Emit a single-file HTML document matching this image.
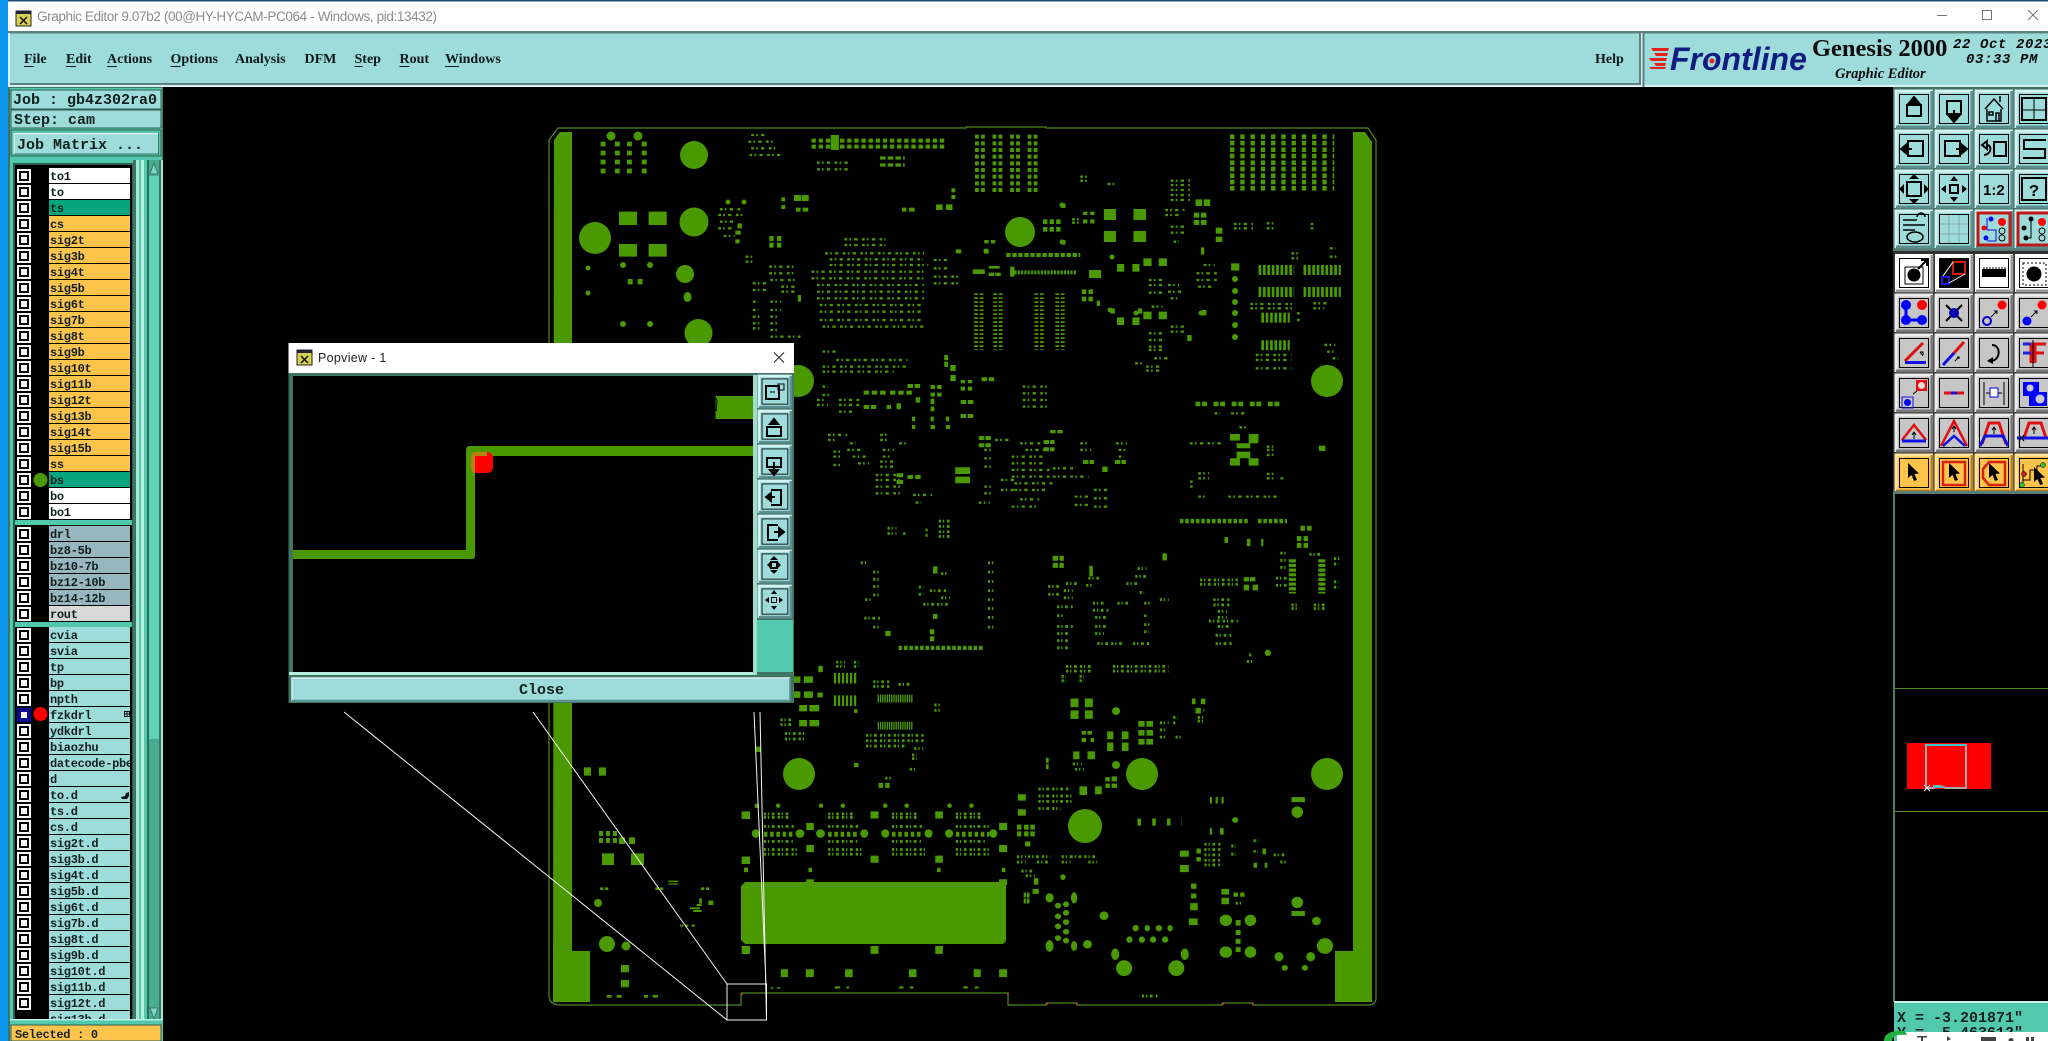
<!DOCTYPE html>
<html><head><meta charset="utf-8"><title>Graphic Editor</title>
<style>
html,body{margin:0;padding:0;background:#000;width:2048px;height:1041px;overflow:hidden}
svg{display:block}
.m{font:bold 14px "Liberation Serif",serif;fill:#0a1a1a}
.r{font:bold 12px "Liberation Mono",monospace;fill:#10201c;letter-spacing:-.3px}
.t{font:bold 15px "Liberation Mono",monospace;fill:#10201c}
.s{fill:none;stroke:#4a9900}
</style></head><body>
<svg xmlns="http://www.w3.org/2000/svg" width="2048" height="1041" viewBox="0 0 2048 1041">
<defs>
<g id="bt"><rect width="38" height="38" fill="#9edcdc"/><path d="M1 38V1H38" stroke="#d4f2f2" stroke-width="3" fill="none"/><path d="M1 37H37V1" stroke="#5c8f8f" stroke-width="3" fill="none"/><rect x="4.500" y="4.500" width="29" height="29" fill="none" stroke="#000"/></g>
<g id="bg"><rect width="38" height="38" fill="#c6c6c6"/><path d="M1 38V1H38" stroke="#eee" stroke-width="3" fill="none"/><path d="M1 37H37V1" stroke="#777" stroke-width="3" fill="none"/><rect x="4.500" y="4.500" width="29" height="29" fill="none" stroke="#000"/></g>
<g id="bw"><rect width="38" height="38" fill="#fff"/><path d="M1 37H37V1" stroke="#999" stroke-width="3" fill="none"/><rect x="4.500" y="4.500" width="29" height="29" fill="none" stroke="#000"/></g>
<g id="bo"><rect width="38" height="38" fill="#ffc44c"/><path d="M1 38V1H38" stroke="#ffe39f" stroke-width="3" fill="none"/><path d="M1 37H37V1" stroke="#b48428" stroke-width="3" fill="none"/><rect x="4.500" y="4.500" width="29" height="29" fill="none" stroke="#000"/></g>
<g id="cb"><rect x="17" width="14" height="14" fill="#fff"/><rect x="19" y="2" width="10" height="10" fill="#000"/><rect x="21" y="4" width="6" height="6" fill="#fff"/></g>
<path id="cur" d="M0 0L0 15L3.500 12L6 18L9 17L6.500 11L11 10.500Z" fill="#000"/>
</defs>

<!-- base -->
<rect width="2048" height="1041" fill="#000"/>
<rect x="0" y="0" width="8" height="1041" fill="#0a94ea"/>

<!-- ===== BOARD ===== -->
<path d="M558 128H966V127H1046V128H1368L1376 140V998Q1376 1005 1368 1005H1253V1003H1222V1005H1077V1003H1046V1005H1008V993H741V1005H560Q549 1005 549 995V140Z" fill="none" stroke="#4c8a20" stroke-width="1.200"/>
<path d="M741 993h2v2h-2zM1007 993h2v2h-2zM1046 1003h2v2h-2zM1076 1003h2v2h-2zM1222 1003h2v2h-2zM1252 1003h2v2h-2z" fill="#b04010"/>
<g fill="#4a9900">
<path d="M554 140L560 132H572V951H590V1002H553Z"/>
<path d="M1353 132H1365L1372 142V1002H1335V951H1353Z"/>
<path d="M745 882H1003L1006 885V941L1003 944H745L741 940V886Z"/>
<circle cx="694" cy="155" r="14"/><circle cx="694" cy="222" r="14.500"/><circle cx="595" cy="238" r="16"/><circle cx="685" cy="274" r="9"/><ellipse cx="687.500" cy="297" rx="4" ry="5"/><circle cx="698.500" cy="333" r="14"/><circle cx="1020" cy="232" r="15"/><circle cx="1327" cy="381" r="16"/><circle cx="798" cy="381" r="16"/><circle cx="799" cy="774" r="16"/><circle cx="1142" cy="774" r="16"/><circle cx="1327" cy="774" r="16"/><circle cx="1085" cy="826" r="17"/><circle cx="607" cy="944" r="8"/><circle cx="626" cy="946" r="4.500"/><circle cx="598" cy="903" r="4"/>
<circle cx="611" cy="136" r="4.500"/><circle cx="638" cy="136" r="4.500"/><circle cx="588" cy="268" r="2.500"/><circle cx="588" cy="293" r="2.500"/><circle cx="623" cy="265" r="3"/><circle cx="650" cy="265" r="3"/><circle cx="623" cy="324" r="3"/><circle cx="650" cy="324" r="3"/><circle cx="728" cy="202" r="2.500"/><circle cx="744" cy="202" r="2.500"/>
<circle cx="1062" cy="205" r="2.500"/><circle cx="1062" cy="242" r="2.500"/><circle cx="986" cy="251" r="2.500"/><circle cx="1112" cy="257" r="2.500"/><circle cx="1110" cy="310" r="2.500"/><circle cx="1136" cy="313" r="2.500"/><circle cx="1201" cy="313" r="2.500"/>
<circle cx="1235" cy="279" r="3"/><circle cx="1235" cy="291" r="3"/><circle cx="1235" cy="302" r="3"/><circle cx="1235" cy="313" r="3"/><circle cx="1235" cy="325" r="3"/><circle cx="1235" cy="337" r="3"/>
</g>

<!-- z7 coordinates -->
<g transform="translate(540,110) scale(.5485,.3333)">
<path fill="#4a9900" d="M530 75h15v45h-15zM144 305h33v40h-33zM198 305h33v40h-33zM144 402h33v38h-33zM198 402h33v38h-33zM160 507h9v16h-9zM178 507h9v16h-9zM463 255h13v18h-13zM477 255h13v18h-13zM440 262h7v12h-7zM440 285h7v12h-7zM467 293h8v12h-8zM479 293h10v12h-10zM660 293h8v12h-8zM673 293h10v12h-10zM722 283h12v17h-12zM740 283h12v17h-12zM750 235h7v12h-7zM750 255h7v12h-7zM418 378h8v15h-8zM432 378h8v15h-8zM418 398h8v15h-8zM432 398h8v15h-8zM1028 297h22v33h-22zM1082 297h23v33h-23zM1028 363h22v33h-22zM1082 363h23v33h-23zM1052 462h13v23h-13zM1080 462h13v23h-13zM1100 445h15v23h-15zM1128 445h15v23h-15zM1052 622h13v23h-13zM1080 622h13v23h-13zM1100 605h15v23h-15zM1128 605h15v23h-15zM1195 268h12v20h-12zM1210 268h12v20h-12zM1192 308h10v15h-10zM1205 308h10v15h-10zM1192 330h10v15h-10zM1205 330h10v15h-10zM1232 353h12v18h-12zM1232 380h12v16h-12zM1260 460h15v22h-15zM1001 480h22v24h-22zM988 538h8v14h-8zM1000 538h8v14h-8zM988 560h8v14h-8zM1000 560h8v14h-8zM1015 572h6v16h-6zM360 340h8v15h-8zM356 362h10v12h-10zM356 388h8v12h-8zM758 418h10v12h-10zM810 390h8v10h-8zM822 390h8v10h-8zM789 478h22v14h-22zM818 468h10v8h-10zM828 468h10v8h-10zM818 488h10v10h-10zM830 488h10v10h-10zM857 470h8v30h-8zM990 305h8v10h-8zM1003 305h8v10h-8zM990 328h8v12h-8zM1003 328h8v12h-8zM737 735h7v16h-7zM737 755h7v16h-7zM748 765h10v18h-10zM748 795h10v18h-10zM767 810h8v10h-8zM780 810h8v10h-8zM767 830h8v12h-8zM780 830h8v12h-8zM805 802h10v12h-10zM818 802h10v12h-10zM670 822h10v12h-10zM683 822h10v12h-10zM712 825h8v12h-8zM724 825h8v12h-8zM712 848h8v12h-8zM724 848h8v12h-8zM767 870h10v12h-10zM780 870h10v12h-10zM767 912h10v12h-10zM780 912h10v12h-10zM678 920h6v14h-6zM678 945h6v12h-6zM712 920h6v14h-6zM712 945h8v12h-8zM740 920h6v14h-6zM740 945h8v12h-8zM590 842h10v12h-10zM605 842h10v12h-10zM620 842h10v12h-10zM638 842h10v12h-10zM653 842h10v12h-10zM668 842h10v12h-10zM590 885h10v12h-10zM603 885h10v12h-10zM632 885h8v12h-8zM650 880h8v18h-8zM685 862h8v16h-8zM712 866h7v16h-7zM712 890h7v14h-7zM1420 1007h12v16h-12zM1258 972h18v20h-18zM1292 972h18v28h-18zM1270 1000h25v15h-25zM1270 1025h25v20h-25zM1258 1045h18v22h-18zM1292 1045h18v22h-18zM1180 675h8v18h-8zM930 960h10v10h-10zM943 960h10v10h-10zM800 978h10v12h-10zM812 978h10v12h-10zM800 1000h10v12h-10zM812 1000h10v12h-10zM918 990h10v12h-10zM930 990h8v12h-8zM918 1012h10v12h-10zM930 1012h8v12h-8zM757 1072h15v20h-15zM772 1072h12v20h-12zM757 1100h15v20h-15zM772 1100h12v20h-12zM650 1090h12v12h-12zM650 1110h12v12h-12zM670 1095h10v12h-10zM684 1095h10v12h-10zM990 1050h10v12h-10zM1002 1050h8v12h-8zM1048 1050h10v12h-10zM1060 1050h8v12h-8zM1025 1070h10v16h-10zM1207 600h8v16h-8zM1040 595h8v16h-8zM1090 595h8v16h-8zM950 280h8v14h-8zM950 390h8v14h-8zM810 417h8v14h-8zM470 555h6v20h-6zM1205 412h6v22h-6z"/>
<g class="s" stroke-width="7" stroke-dasharray="5 4 3 6 6 8">
<path d="M385 75h30M380 95h45M385 115h45M382 135h60M505 158h60M505 178h60M328 298h40M325 315h45M328 335h30M325 355h25M335 378h20M375 440h15M375 455h15M418 470h45M418 490h45M420 510h45M440 530h25M440 545h25M388 520h30M388 540h30M388 575h10M388 600h10M388 620h15M388 640h15M388 655h15M420 575h20M420 600h20M420 620h15M420 640h15M420 660h15M420 680h55"/>
<path d="M555 388h75M555 405h75M520 430h180M528 448h170M528 465h180M495 485h210M495 505h210M505 525h195M505 545h195M505 565h195M510 585h190M510 605h190M510 630h190M515 650h185M718 450h25M718 475h25M718 500h45M718 520h45"/>
<path d="M985 200h15M985 212h15M1035 222h15M1150 212h35M1150 225h35M1150 240h35M1150 255h35M1150 270h35M1140 300h35M1140 315h25M1150 350h30M1150 368h30M1155 395h10M1265 342h35M1265 355h35M1325 340h15M1325 355h15M1405 342h5M1405 355h5M970 328h15M970 338h15M1110 510h30M1110 525h30M1145 525h20M1110 548h30M1145 545h25M1150 565h15M1115 590h20M1197 490h40M1197 510h40M1200 530h30M1210 465h20M1110 670h30M1110 690h30M1150 650h25M1150 665h25M1110 710h30M1110 720h30M1120 745h25M1085 760h15M1105 770h25M1105 782h25M1295 582h80M1295 595h80M1410 580h25M1410 595h20M1380 610h5M1380 630h5M1305 735h65M1305 750h65M1305 775h65M1430 705h20M1435 725h15M1445 745h10M1370 430h15M1370 445h15M1440 415h10M1440 440h15"/>
<path d="M515 725h30M540 750h130M515 770h155M515 785h130M515 830h10M515 855h15M505 870h15M505 885h20M545 870h40M545 885h40M545 905h30M880 830h50M880 850h50M880 870h50M880 890h50M1230 910h10M1260 910h30M1275 952h15M1185 1000h60M1325 1010h15M1325 1020h15M1325 1035h15M1200 1090h20M1200 1105h20M1325 1092h18M1325 1105h18M1350 1105h8M1185 1115h5M1185 1130h5M1200 1160h15M1255 1160h90"/>
<path d="M525 975h35M525 990h15M620 975h15M620 990h15M655 1000h15M565 1000h10M560 1020h30M535 1025h15M535 1040h15M535 1065h15M570 1040h30M580 1060h20M625 1020h20M625 1040h15M620 1055h25M620 1070h30M612 1095h50M612 1110h50M612 1130h50M612 1150h50M680 1155h35M685 1178h10"/>
<path d="M830 990h30M875 1000h40M810 1020h15M885 1020h40M810 1045h12M860 1040h60M985 1000h15M1050 1000h20M985 1020h20M1055 1020h15M1055 1040h10M860 1060h60M810 1070h12M860 1080h70M935 1075h40M860 1100h70M935 1100h65M840 1110h30M810 1130h15M865 1120h70M840 1140h30M865 1140h60M810 1150h15M875 1168h35M975 1160h30M975 1185h30M1010 1140h30M1010 1165h30M1010 1190h30M800 1178h20M860 1190h50"/>
</g>
<path class="s" stroke-width="12" stroke-dasharray="8 5" d="M495 92h245M495 110h245"/>
<path class="s" stroke-width="10" stroke-dasharray="10 4" d="M620 144h45M620 165h45"/>
<path class="s" stroke-width="9" stroke-dasharray="14 13" d="M115 95V190M141 95V190M163 95V190M190 95V190"/>
<path class="s" stroke-width="12" stroke-dasharray="7 4 7 14" d="M793 80h115M793 100h115M793 120h115M793 140h115M793 160h115M793 180h115M793 200h115M793 220h115M793 240h115"/>
<path class="s" stroke-width="14" stroke-dasharray="8 10.700" d="M1258 80h190M1258 99h190M1258 119h190M1258 138h190M1258 158h190M1258 177h190M1258 197h190M1258 216h190M1258 235h190"/>
<path class="s" stroke-width="7" stroke-dasharray="5 7" d="M795 550V720M805 550V720M830 550V720M840 550V720M905 550V720M915 550V720M943 550V720M953 550V720"/>
<path class="s" stroke-width="12" stroke-dasharray="8 3" d="M850 435h135"/>
<path class="s" stroke-width="12" stroke-dasharray="4 2" d="M865 487h112"/>
<path class="s" stroke-width="14" stroke-dasharray="8 4" d="M917 335h35M917 358h35"/>
<path class="s" stroke-width="30" stroke-dasharray="5 3" d="M1310 480h65M1392 480h68M1310 546h65M1392 546h68M1315 623h52M1315 706h52"/>
<path class="s" stroke-width="14" stroke-dasharray="9 3 9 12" d="M1195 882h165"/>
</g>

<!-- z8 coordinates -->
<g transform="translate(700,480) scale(.4464,.3571)">
<path fill="#4a9900" d="M1345 128h10v14h-10zM1360 128h10v14h-10zM1337 157h10v14h-10zM1352 157h10v14h-10zM1337 176h10v14h-10zM1352 176h10v14h-10zM1175 160h8v16h-8zM1225 165h8v20h-8zM1257 165h5v20h-5zM790 212h12v14h-12zM805 212h10v14h-10zM790 232h12v14h-12zM805 232h10v14h-10zM1036 205h10v20h-10zM1218 272h12v12h-12zM1232 272h12v12h-12zM1218 293h12v16h-12zM1238 293h12v16h-12zM415 423h12v14h-12zM515 418h10v14h-10zM515 438h10v14h-10zM522 242h10v20h-10zM522 375h10v14h-10zM872 240h8v30h-8zM210 550h15v18h-15zM233 550h20v18h-20zM210 592h15v18h-15zM233 592h20v18h-20zM222 630h18v18h-18zM245 630h22v18h-22zM222 672h18v18h-18zM245 672h22v18h-22zM265 520h10v18h-10zM263 595h12v14h-12zM345 642h8v10h-8zM345 792h10v12h-10zM400 848h10v14h-10zM415 848h10v14h-10zM830 612h18v24h-18zM862 612h18v24h-18zM830 645h18v24h-18zM862 645h18v24h-18zM982 675h14v16h-14zM1000 675h15v16h-15zM982 700h14v16h-14zM1000 700h15v16h-15zM982 725h14v16h-14zM1000 725h15v16h-15zM912 704h14v22h-14zM945 704h15v22h-15zM912 735h14v24h-14zM945 735h15v24h-15zM855 703h10v10h-10zM868 703h10v10h-10zM855 722h10v12h-10zM875 722h8v12h-8zM836 760h14v22h-14zM868 760h17v22h-17zM908 832h10v12h-10zM922 830h12v14h-12zM908 850h10v12h-10zM922 850h12v12h-12zM850 858h17v24h-17zM885 858h15v22h-15zM712 880h18v18h-18zM712 922h18v18h-18zM775 778h6v14h-6zM775 796h6v14h-6zM1102 612h8v16h-8zM1122 612h10v16h-10zM1110 638h12v16h-12zM95 928h17v20h-17zM95 1055h17v20h-17zM238 960h17v20h-17zM238 1022h17v20h-17zM382 928h18v20h-18zM382 1052h18v20h-18zM527 928h17v20h-17zM527 1052h17v20h-17zM670 960h18v20h-18zM670 1022h18v20h-18zM99 1086h8v12h-8zM243 1086h8v12h-8zM531 1086h8v12h-8zM676 1086h8v12h-8zM238 1118h17v10h-17zM670 1118h18v16h-18zM95 1305h17v22h-17zM382 1305h18v22h-18zM527 1305h17v22h-17zM181 1370h16v22h-16zM237 1370h18v22h-18zM325 1370h17v22h-17zM468 1370h17v22h-17zM613 1370h16v22h-16zM670 1370h18v22h-18zM158 1420h6v4h-6zM172 1420h8v4h-8zM302 1418h12v6h-12zM328 1418h6v6h-6zM446 1418h10v6h-10zM470 1418h8v6h-8zM590 1418h10v6h-10zM616 1418h8v6h-8zM710 965h10v14h-10zM726 965h10v14h-10zM740 965h10v14h-10zM710 984h10v14h-10zM726 984h10v14h-10zM740 984h10v14h-10zM728 1012h12v14h-12zM748 1115h10v18h-10zM745 1145h14v14h-14zM725 1155h5v14h-5zM732 1155h6v14h-6zM725 1172h5v14h-5zM732 1172h6v14h-6zM1075 1038h20v17h-20zM1075 1078h20v20h-20zM1100 1130h12v15h-12zM1100 1158h12v14h-12zM1098 1185h17v20h-17zM1095 1228h20v18h-20zM1112 1032h10v14h-10zM1112 1056h10v12h-10zM1168 1145h17v16h-17zM1168 1170h17v18h-17zM1195 1155h10v12h-10zM1210 1155h10v12h-10zM1200 1232h11v16h-11zM1200 1260h11v14h-11zM1200 1285h11v14h-11zM1200 1308h11v14h-11zM1325 888h30v14h-30zM1325 1207h30v14h-30zM1260 1032h8v16h-8zM1240 1072h8v14h-8zM1265 1072h6v14h-6zM1142 888h5v18h-5zM1155 888h5v18h-5zM1168 888h5v18h-5zM1142 975h5v18h-5zM1165 975h8v18h-8z"/>
<g fill="#4a9900">
<ellipse cx="932" cy="647" rx="9" ry="11"/><ellipse cx="932" cy="798" rx="9" ry="11"/><ellipse cx="1199" cy="952" rx="7" ry="8"/><ellipse cx="1272" cy="484" rx="7" ry="9"/>
<ellipse cx="125" cy="990" rx="9" ry="12"/><ellipse cx="224" cy="990" rx="10" ry="12"/><ellipse cx="270" cy="990" rx="10" ry="12"/><ellipse cx="368" cy="990" rx="9" ry="12"/><ellipse cx="415" cy="990" rx="9" ry="12"/><ellipse cx="512" cy="990" rx="9" ry="12"/><ellipse cx="558" cy="990" rx="9" ry="12"/><ellipse cx="657" cy="990" rx="9" ry="12"/>
<ellipse cx="127" cy="912" rx="5" ry="6"/><ellipse cx="175" cy="912" rx="5" ry="6"/><ellipse cx="271" cy="912" rx="5" ry="6"/><ellipse cx="320" cy="912" rx="5" ry="6"/><ellipse cx="415" cy="912" rx="5" ry="6"/><ellipse cx="463" cy="912" rx="5" ry="6"/><ellipse cx="559" cy="912" rx="5" ry="6"/><ellipse cx="608" cy="912" rx="5" ry="6"/>
<ellipse cx="783" cy="1170" rx="9" ry="13"/><ellipse cx="838" cy="1170" rx="7" ry="16"/><ellipse cx="783" cy="1305" rx="9" ry="16"/><ellipse cx="838" cy="1305" rx="7" ry="14"/><ellipse cx="868" cy="1300" rx="10" ry="12"/><ellipse cx="905" cy="1220" rx="10" ry="12"/>
<ellipse cx="802" cy="1192" rx="7" ry="8"/><ellipse cx="820" cy="1188" rx="7" ry="8"/><ellipse cx="802" cy="1222" rx="7" ry="8"/><ellipse cx="820" cy="1212" rx="7" ry="8"/><ellipse cx="802" cy="1250" rx="7" ry="8"/><ellipse cx="820" cy="1238" rx="7" ry="8"/><ellipse cx="802" cy="1283" rx="7" ry="8"/><ellipse cx="820" cy="1265" rx="7" ry="8"/><ellipse cx="820" cy="1290" rx="7" ry="8"/>
<ellipse cx="976" cy="1255" rx="7" ry="9"/><ellipse cx="1002" cy="1255" rx="6" ry="9"/><ellipse cx="1028" cy="1255" rx="7" ry="9"/><ellipse cx="1053" cy="1255" rx="6" ry="9"/><ellipse cx="962" cy="1287" rx="7" ry="9"/><ellipse cx="990" cy="1287" rx="7" ry="9"/><ellipse cx="1015" cy="1287" rx="7" ry="9"/><ellipse cx="1042" cy="1287" rx="7" ry="9"/>
<ellipse cx="930" cy="1328" rx="9" ry="16"/><ellipse cx="1086" cy="1328" rx="9" ry="16"/><ellipse cx="950" cy="1367" rx="18" ry="22"/><ellipse cx="1067" cy="1367" rx="18" ry="22"/>
<ellipse cx="1338" cy="930" rx="13" ry="16"/><ellipse cx="1338" cy="1183" rx="13" ry="16"/><ellipse cx="1178" cy="1233" rx="14" ry="16"/><ellipse cx="1233" cy="1233" rx="13" ry="16"/><ellipse cx="1178" cy="1322" rx="14" ry="16"/><ellipse cx="1233" cy="1322" rx="13" ry="16"/>
<ellipse cx="1297" cy="1335" rx="10" ry="13"/><ellipse cx="1368" cy="1335" rx="10" ry="13"/><ellipse cx="1381" cy="1235" rx="10" ry="12"/><ellipse cx="1400" cy="1305" rx="18" ry="22"/><ellipse cx="1310" cy="1366" rx="7" ry="8"/><ellipse cx="1355" cy="1366" rx="7" ry="8"/>
<ellipse cx="813" cy="1112" rx="6" ry="8"/>
</g>
<g class="s" stroke-width="8" stroke-dasharray="5 4 3 6 6 7">
<path d="M420 150h20M420 135h20M535 115h25M535 130h25M535 145h25M535 158h25M505 140h5M505 155h5M455 150h5M360 232h12M388 258h18M388 278h18M388 298h18M388 322h18M370 335h15M368 387h35M388 412h18M645 232h18M645 258h18M645 284h18M645 310h18M645 335h18M645 360h18M645 385h18M645 412h18M540 262h15M490 300h10M515 310h40M490 320h10M540 330h20M500 348h60"/>
<path d="M780 298h25M780 320h25M820 290h30M815 310h20M815 330h20M800 355h35M800 380h15M800 410h35M800 430h30M800 450h30M800 470h30M870 275h30M865 295h15M880 345h30M880 365h35M885 385h25M885 410h25M885 430h20M890 458h55M970 458h40M935 345h30M955 290h30M985 315h10M995 345h15M995 380h5M995 405h15M995 425h10M1030 335h20M980 248h20M975 270h30"/>
<path d="M1120 280h85M1120 292h85M1150 335h40M1150 350h40M1160 368h20M1160 385h20M1140 395h65M1160 410h25M1155 435h35M1155 458h40M1230 490h8M1225 508h12M1300 205h15M1300 225h15M1300 245h15M1290 275h25M1290 295h25M1365 208h25M1420 220h15M1420 235h10M1420 285h10M1420 300h10M1325 350h18M1325 360h18M1375 350h28M1375 360h28"/>
<path d="M820 522h60M820 535h60M925 522h125M925 535h125M810 550h10M850 550h10M810 562h10M850 562h10M305 510h20M305 522h20M345 510h10M345 522h10M388 565h40M388 578h40M445 572h30M180 672h30M180 685h30M190 710h45M190 725h45M372 715h130M372 730h130M372 745h90M480 752h20M475 770h10M475 780h10M470 810h18M415 835h15M525 630h15M525 645h15M758 865h70M758 885h75M758 900h75M758 920h50M835 795h20M840 810h20M1030 680h20M1030 700h15M1030 720h15M1060 665h10M1060 680h5M1065 720h15M1110 645h20M1115 665h15M1115 675h15"/>
<path d="M143 935h55M143 945h55M287 935h55M287 945h55M430 935h55M430 945h55M573 935h60M573 945h60M143 970h70M287 970h70M430 970h70M573 970h75M143 1012h65M287 1012h65M430 1012h65M573 1012h65M143 1035h80M287 1035h80M430 1035h80M573 1035h80M143 1048h80M287 1048h80M430 1048h80M573 1048h80"/>
<path d="M710 1055h20M710 1070h20M735 1055h50M755 1070h30M810 1055h20M830 1055h60M810 1070h20M870 1070h20M720 1095h30M730 1108h20M1130 1020h40M1130 1035h40M1130 1050h35M1130 1065h35M1130 1078h35M1190 1025h10M1190 1048h10M1240 1010h10M1240 1040h10M1285 1050h30M1300 1070h15M1200 1185h15M990 1445h35"/>
</g>
<path class="s" stroke-width="14" stroke-dasharray="8 6" d="M143 992h70M287 992h70M430 992h70M573 992h75"/>
<path class="s" stroke-width="12" stroke-dasharray="8 4" d="M1075 115h155M1250 115h65M445 470h190"/>
<path class="s" stroke-width="20" stroke-dasharray="8 25" d="M980 958h100"/>
<path class="s" stroke-width="30" stroke-dasharray="5 4" d="M300 555h50M300 618h50"/>
<path class="s" stroke-width="22" stroke-dasharray="3 2" d="M398 612h80M398 688h80"/>
<path class="s" stroke-width="16" stroke-dasharray="9 4" d="M1327 222v96M1393 222v96"/>
</g>

<!-- z10 coordinates -->
<g transform="translate(320,700) scale(.3333)" fill="#4a9900">
<path d="M792 202h21v25h-21zM837 202h21v25h-21zM837 393h12v15h-12zM858 393h12v15h-12zM879 393h12v15h-12zM837 414h12v15h-12zM858 414h12v15h-12zM879 414h12v15h-12zM897 412h18v20h-18zM927 412h18v20h-18zM846 460h36v35h-36zM933 460h39v35h-39zM840 562h10v8h-10zM855 562h10v8h-10zM1006 562h10v8h-10zM1020 562h10v8h-10zM1143 562h10v8h-10zM1158 562h10v8h-10zM1045 542h30v4h-30zM1045 550h30v4h-30zM1165 602h15v13h-15zM1080 674h10v6h-10zM1095 674h10v6h-10zM1115 674h10v6h-10zM903 795h24v22h-24zM903 840h24v22h-24zM860 885h15v8h-15zM890 885h15v8h-15zM972 885h12v8h-12zM998 885h16v8h-16zM1265 335h25v22h-25zM1265 470h25v22h-25zM1272 503h12v12h-12zM1265 738h25v24h-25zM1307 140h15v16h-15zM1305 312h12v12h-12zM1110 622h30v6h-30zM1120 630h25v6h-25zM1130 612h15v6h-15zM1138 595h8v16h-8z"/>
</g>

<!-- white projection lines -->
<g fill="none" stroke="#f4f4f4" stroke-width="1">
<path d="M344 712L727 1020M533 712L727 984"/>
<path d="M754 712L766 984M760 712L766.500 1020"/>
<rect x="727" y="984" width="39.500" height="36"/>
</g>

<!-- ===== TITLE ===== -->
<rect x="8" y="0" width="2040" height="31" fill="#fff"/>
<rect x="0" y="0" width="2048" height="1.500" fill="#1d4b75"/>
<rect x="0" y="0" width="8" height="1.500" fill="#0a94ea"/>
<g transform="translate(16,11)"><rect width="15" height="15" fill="#d8d050" stroke="#222"/><rect width="15" height="3" fill="#223"/><path d="M4 6l7 7M11 6l-7 7" stroke="#111" stroke-width="1.500"/></g>
<text x="37" y="21" font-family="'Liberation Sans',sans-serif" font-size="13.500" fill="#8c8c8c" textLength="400" lengthAdjust="spacing">Graphic Editor 9.07b2 (00@HY-HYCAM-PC064 - Windows, pid:13432)</text>
<path d="M1937 15.500h10" stroke="#777"/><rect x="1982.500" y="10.500" width="9" height="9" fill="none" stroke="#777"/><path d="M2028 10l10 10M2038 10l-10 10" stroke="#777"/>

<!-- ===== MENU BAR ===== -->
<rect x="8" y="31" width="2040" height="56" fill="#9edcdc"/>
<rect x="8" y="31" width="2040" height="2.500" fill="#5e8282"/>
<rect x="8" y="83" width="1634" height="2" fill="#5e8282"/>
<rect x="8" y="85" width="2040" height="2" fill="#d8f2f2"/>
<rect x="8" y="33" width="2" height="52" fill="#d8f2f2"/>
<rect x="1639" y="33" width="2" height="52" fill="#5e8282"/><rect x="1641" y="33" width="1.500" height="54" fill="#d8f2f2"/><rect x="1642.500" y="33" width="2" height="54" fill="#5e8282"/>
<text class="m" x="24" y="63">File</text><text class="m" x="66" y="63">Edit</text><text class="m" x="107" y="63">Actions</text><text class="m" x="170.500" y="63">Options</text><text class="m" x="235" y="63">Analysis</text><text class="m" x="304.500" y="63">DFM</text><text class="m" x="354.500" y="63">Step</text><text class="m" x="399.500" y="63">Rout</text><text class="m" x="445" y="63">Windows</text>
<path d="M24 66.500h10M66 66.500h10M107 66.500h10M170.500 66.500h10M354.500 66.500h8M399.500 66.500h10M445 66.500h14" stroke="#0a1a1a"/>
<text class="m" x="1595" y="63">Help</text>
<!-- logo -->
<path d="M1651 48h18l-1 3h-15zM1654 53h14l-1 3h-11zM1649 58h18l-1 3h-15zM1654 63h12l-1 3h-9zM1649 67h17l-1 2h-14z" fill="#e8201c"/>
<text x="1670" y="70" font-family="'Liberation Sans',sans-serif" font-weight="bold" font-style="italic" font-size="32" fill="#101d80">Frontline</text>
<circle cx="1712" cy="61" r="2.500" fill="#e8201c"/>
<text x="1812" y="56" font-family="'Liberation Serif',serif" font-weight="bold" font-size="24.500" fill="#0a0a0a">Genesis 2000</text>
<text x="1835" y="78" font-family="'Liberation Serif',serif" font-weight="bold" font-style="italic" font-size="14.500" fill="#0a0a0a">Graphic Editor</text>
<g font-family="'Liberation Mono',monospace" font-weight="bold" font-style="italic" font-size="14" fill="#0a0a0a" letter-spacing=".6">
<text x="1953" y="48">22 Oct 2023</text><text x="1966" y="63">03:33 PM</text></g>

<!-- ===== LEFT PANEL ===== -->
<rect x="8" y="87" width="155" height="954" fill="#3c7565"/>
<rect x="10" y="88" width="152" height="72" fill="#52c8ac"/>
<rect x="11" y="90" width="150" height="19" fill="#9edcdc" stroke="#2e5e50"/>
<rect x="11" y="110" width="150" height="18" fill="#9edcdc" stroke="#2e5e50"/>
<rect x="11" y="130" width="150" height="26" fill="#52c8ac" stroke="#2e5e50"/>
<rect x="13.500" y="133" width="145" height="21" fill="#9edcdc" stroke="#3c7565"/>
<path d="M14 154V133.500H158" fill="none" stroke="#d8f2f2" stroke-width="1.500"/>
<text class="t" x="13" y="104">Job : gb4z302ra0</text>
<text class="t" x="14" y="124">Step: cam</text>
<text class="t" x="17" y="149">Job Matrix ...</text>
<!-- list body -->
<rect x="10" y="160" width="153" height="881" fill="#52c8ac"/>
<rect x="13" y="163" width="120" height="857" fill="#2e5e50"/>
<rect x="15" y="165" width="117" height="855" fill="#000"/>
<rect x="15" y="520" width="117" height="5" fill="#52c8ac"/><rect x="15" y="622" width="117" height="5" fill="#52c8ac"/>
<!-- scrollbar -->
<rect x="133" y="160" width="3" height="860" fill="#3c7565"/>
<rect x="136" y="160" width="3" height="860" fill="#a8e6d8"/>
<rect x="139" y="160" width="2" height="860" fill="#52c8ac"/>
<rect x="141" y="160" width="3" height="860" fill="#b8f0e4"/>
<rect x="144" y="160" width="3" height="860" fill="#52c8ac"/>
<rect x="147" y="160" width="2" height="860" fill="#2e6e5c"/>
<rect x="149" y="160" width="10" height="860" fill="#46ad93"/>
<rect x="149" y="176" width="10" height="563" fill="#5fd2b8"/>
<rect x="159" y="160" width="2" height="860" fill="#3c7565"/>
<rect x="161" y="160" width="2" height="881" fill="#a8e6d8"/>
<path d="M150 174L154 163L158 174Z" fill="#7fd8c8" stroke="#3c7565"/>
<path d="M150 1008L154 1019L158 1008Z" fill="#7fd8c8" stroke="#3c7565"/>

<!-- rows group 1 -->
<g fill="#fff"><rect x="49" y="168" width="81" height="15"/><rect x="49" y="184" width="81" height="15"/><rect x="49" y="488" width="81" height="15"/><rect x="49" y="504" width="81" height="15"/></g>
<g fill="#06a57f"><rect x="49" y="200" width="81" height="15"/><rect x="49" y="472" width="81" height="15"/></g>
<g fill="#ffc44c"><rect x="49" y="216" width="81" height="15"/><rect x="49" y="232" width="81" height="15"/><rect x="49" y="248" width="81" height="15"/><rect x="49" y="264" width="81" height="15"/><rect x="49" y="280" width="81" height="15"/><rect x="49" y="296" width="81" height="15"/><rect x="49" y="312" width="81" height="15"/><rect x="49" y="328" width="81" height="15"/><rect x="49" y="344" width="81" height="15"/><rect x="49" y="360" width="81" height="15"/><rect x="49" y="376" width="81" height="15"/><rect x="49" y="392" width="81" height="15"/><rect x="49" y="408" width="81" height="15"/><rect x="49" y="424" width="81" height="15"/><rect x="49" y="440" width="81" height="15"/><rect x="49" y="456" width="81" height="15"/></g>
<g fill="#98b6c0"><rect x="49" y="526" width="81" height="15"/><rect x="49" y="542" width="81" height="15"/><rect x="49" y="558" width="81" height="15"/><rect x="49" y="574" width="81" height="15"/><rect x="49" y="590" width="81" height="15"/></g>
<rect x="49" y="606" width="81" height="15" fill="#d8d8d8"/>
<g fill="#9edcdc"><rect x="49" y="627" width="81" height="15"/><rect x="49" y="643" width="81" height="15"/><rect x="49" y="659" width="81" height="15"/><rect x="49" y="675" width="81" height="15"/><rect x="49" y="691" width="81" height="15"/><rect x="49" y="707" width="81" height="15"/><rect x="49" y="723" width="81" height="15"/><rect x="49" y="739" width="81" height="15"/><rect x="49" y="755" width="81" height="15"/><rect x="49" y="771" width="81" height="15"/><rect x="49" y="787" width="81" height="15"/><rect x="49" y="803" width="81" height="15"/><rect x="49" y="819" width="81" height="15"/><rect x="49" y="835" width="81" height="15"/><rect x="49" y="851" width="81" height="15"/><rect x="49" y="867" width="81" height="15"/><rect x="49" y="883" width="81" height="15"/><rect x="49" y="899" width="81" height="15"/><rect x="49" y="915" width="81" height="15"/><rect x="49" y="931" width="81" height="15"/><rect x="49" y="947" width="81" height="15"/><rect x="49" y="963" width="81" height="15"/><rect x="49" y="979" width="81" height="15"/><rect x="49" y="995" width="81" height="15"/><rect x="49" y="1011" width="81" height="9"/></g>
<g>
<use href="#cb" y="169"/><use href="#cb" y="185"/><use href="#cb" y="201"/><use href="#cb" y="217"/><use href="#cb" y="233"/><use href="#cb" y="249"/><use href="#cb" y="265"/><use href="#cb" y="281"/><use href="#cb" y="297"/><use href="#cb" y="313"/><use href="#cb" y="329"/><use href="#cb" y="345"/><use href="#cb" y="361"/><use href="#cb" y="377"/><use href="#cb" y="393"/><use href="#cb" y="409"/><use href="#cb" y="425"/><use href="#cb" y="441"/><use href="#cb" y="457"/><use href="#cb" y="473"/><use href="#cb" y="489"/><use href="#cb" y="505"/>
<use href="#cb" y="527"/><use href="#cb" y="543"/><use href="#cb" y="559"/><use href="#cb" y="575"/><use href="#cb" y="591"/><use href="#cb" y="607"/>
<use href="#cb" y="628"/><use href="#cb" y="644"/><use href="#cb" y="660"/><use href="#cb" y="676"/><use href="#cb" y="692"/>
<rect x="17" y="708" width="14" height="14" fill="#0a0a90"/><rect x="21" y="712" width="6" height="6" fill="#fff"/>
<use href="#cb" y="724"/><use href="#cb" y="740"/><use href="#cb" y="756"/><use href="#cb" y="772"/><use href="#cb" y="788"/><use href="#cb" y="804"/><use href="#cb" y="820"/><use href="#cb" y="836"/><use href="#cb" y="852"/><use href="#cb" y="868"/><use href="#cb" y="884"/><use href="#cb" y="900"/><use href="#cb" y="916"/><use href="#cb" y="932"/><use href="#cb" y="948"/><use href="#cb" y="964"/><use href="#cb" y="980"/><use href="#cb" y="996"/>
</g>
<circle cx="40.500" cy="480" r="7" fill="#4a9900"/><circle cx="40.500" cy="714" r="7" fill="#ff0000"/>
<g class="labels">
<text class="r" x="50" y="180">to1</text><text class="r" x="50" y="196">to</text><text class="r" x="50" y="212">ts</text><text class="r" x="50" y="228">cs</text><text class="r" x="50" y="244">sig2t</text><text class="r" x="50" y="260">sig3b</text><text class="r" x="50" y="276">sig4t</text><text class="r" x="50" y="292">sig5b</text><text class="r" x="50" y="308">sig6t</text><text class="r" x="50" y="324">sig7b</text><text class="r" x="50" y="340">sig8t</text><text class="r" x="50" y="356">sig9b</text><text class="r" x="50" y="372">sig10t</text><text class="r" x="50" y="388">sig11b</text><text class="r" x="50" y="404">sig12t</text><text class="r" x="50" y="420">sig13b</text><text class="r" x="50" y="436">sig14t</text><text class="r" x="50" y="452">sig15b</text><text class="r" x="50" y="468">ss</text><text class="r" x="50" y="484">bs</text><text class="r" x="50" y="500">bo</text><text class="r" x="50" y="516">bo1</text>
<text class="r" x="50" y="538">drl</text><text class="r" x="50" y="554">bz8-5b</text><text class="r" x="50" y="570">bz10-7b</text><text class="r" x="50" y="586">bz12-10b</text><text class="r" x="50" y="602">bz14-12b</text><text class="r" x="50" y="618">rout</text>
<text class="r" x="50" y="639">cvia</text><text class="r" x="50" y="655">svia</text><text class="r" x="50" y="671">tp</text><text class="r" x="50" y="687">bp</text><text class="r" x="50" y="703">npth</text><text class="r" x="50" y="719">fzkdrl</text><text class="r" x="50" y="735">ydkdrl</text><text class="r" x="50" y="751">biaozhu</text>
<svg x="49" y="755" width="81" height="16"><text class="r" x="1" y="12">datecode-pbe</text></svg>
<text class="r" x="50" y="783">d</text><text class="r" x="50" y="799">to.d</text><text class="r" x="50" y="815">ts.d</text><text class="r" x="50" y="831">cs.d</text><text class="r" x="50" y="847">sig2t.d</text><text class="r" x="50" y="863">sig3b.d</text><text class="r" x="50" y="879">sig4t.d</text><text class="r" x="50" y="895">sig5b.d</text><text class="r" x="50" y="911">sig6t.d</text><text class="r" x="50" y="927">sig7b.d</text><text class="r" x="50" y="943">sig8t.d</text><text class="r" x="50" y="959">sig9b.d</text><text class="r" x="50" y="975">sig10t.d</text><text class="r" x="50" y="991">sig11b.d</text><text class="r" x="50" y="1007">sig12t.d</text>
<svg x="49" y="1011" width="81" height="9"><text class="r" x="1" y="12">sig13b.d</text></svg>
</g>
<rect x="124.500" y="711.500" width="5" height="5" fill="none" stroke="#111"/><path d="M127 711v6M124 714h6" stroke="#111"/>
<path d="M121 797l4-1 1-3 3-1 0 4-2 3h-5z" fill="#111"/>
<!-- selected -->
<rect x="10" y="1019" width="153" height="22" fill="#52c8ac"/>
<rect x="10" y="1019" width="153" height="1.500" fill="#b8f0e4"/>
<rect x="11" y="1025" width="150" height="16" fill="#ffc44c" stroke="#2e5e50"/>
<text class="r" x="15" y="1038">Selected : 0</text>

<!-- ===== RIGHT TOOLBAR ===== -->
<rect x="1893" y="87" width="155" height="163" fill="#3f6f62"/>
<rect x="1893" y="250" width="155" height="243" fill="#303030"/>
<rect x="1893" y="248" width="155" height="3" fill="#5b7a72"/>
<g>
<use href="#bt" x="1895" y="90"/><use href="#bt" x="1935" y="90"/><use href="#bt" x="1975" y="90"/><use href="#bt" x="2015" y="90"/>
<use href="#bt" x="1895" y="130"/><use href="#bt" x="1935" y="130"/><use href="#bt" x="1975" y="130"/><use href="#bt" x="2015" y="130"/>
<use href="#bt" x="1895" y="170"/><use href="#bt" x="1935" y="170"/><use href="#bt" x="1975" y="170"/><use href="#bt" x="2015" y="170"/>
<use href="#bt" x="1895" y="210"/><use href="#bt" x="1935" y="210"/><use href="#bt" x="1975" y="210"/><use href="#bt" x="2015" y="210"/>
<use href="#bw" x="1895" y="254"/><use href="#bw" x="1935" y="254"/><use href="#bw" x="1975" y="254"/><use href="#bw" x="2015" y="254"/>
<use href="#bg" x="1895" y="294"/><use href="#bg" x="1935" y="294"/><use href="#bg" x="1975" y="294"/><use href="#bg" x="2015" y="294"/>
<use href="#bg" x="1895" y="334"/><use href="#bg" x="1935" y="334"/><use href="#bg" x="1975" y="334"/><use href="#bg" x="2015" y="334"/>
<use href="#bg" x="1895" y="374"/><use href="#bg" x="1935" y="374"/><use href="#bg" x="1975" y="374"/><use href="#bg" x="2015" y="374"/>
<use href="#bg" x="1895" y="414"/><use href="#bg" x="1935" y="414"/><use href="#bg" x="1975" y="414"/><use href="#bg" x="2015" y="414"/>
<use href="#bo" x="1895" y="454"/><use href="#bo" x="1935" y="454"/><use href="#bo" x="1975" y="454"/><use href="#bo" x="2015" y="454"/>
</g>
<!-- icons row 1 -->
<g fill="none" stroke="#000" stroke-width="2">
<g transform="translate(1895,90)"><rect x="12" y="15" width="14" height="11"/><path d="M19 7L14 13H24Z" fill="#000"/><path d="M19 12v4"/></g>
<g transform="translate(1935,90)"><rect x="12" y="11" width="14" height="13"/><path d="M19 32L14 26H24Z" fill="#000"/><path d="M19 20v6"/></g>
<g transform="translate(1975,90)" stroke-width="1.500"><path d="M10 19L19 9L28 19M12 19V31H26V19M14 22h4v3h-4zM21 23h3v8h-3zM25 6v6"/></g>
<g transform="translate(2015,90)"><rect x="7" y="8" width="24" height="22"/><path d="M7 20H31M19 8V30" stroke-width="1"/></g>
<g transform="translate(1895,130)"><rect x="13" y="11" width="15" height="15"/><path d="M6 19L12 14V24Z" fill="#000"/><path d="M12 19h5"/></g>
<g transform="translate(1935,130)"><rect x="10" y="11" width="15" height="15"/><path d="M32 19L26 14V24Z" fill="#000"/><path d="M21 19h5"/></g>
<g transform="translate(1975,130)"><rect x="19" y="12" width="12" height="14"/><path d="M7 15L12 11V19ZM12 15c5 0 5 9-3 10" /></g>
<g transform="translate(2015,130)"><path d="M31 10H9V19H30V28H8"/></g>
<g transform="translate(1895,170)"><rect x="12" y="12" width="14" height="14"/><path d="M19 4l-5 5h10zM19 34l-5-5h10zM4 19l5-5v10zM34 19l-5-5v10z" fill="#000" stroke="none"/></g>
<g transform="translate(1935,170)"><rect x="15" y="15" width="8" height="8"/><path d="M19 6l-4 5h8zM19 32l-4-5h8zM6 19l5-4v8zM32 19l-5-4v8z" fill="#000" stroke="none"/></g>
<g transform="translate(2015,170)"><rect x="7" y="8" width="24" height="22"/></g>
<g transform="translate(1895,210)" stroke-width="1.500"><path d="M8 10H22M22 7a4 4 0 0 1 8 0M8 15H30M8 20H20"/><ellipse cx="20" cy="27" rx="8" ry="5"/></g>
<g transform="translate(1935,210)" stroke="#86a8a8" stroke-width="1"><path d="M14 5V33M24 5V33M5 14H33M5 24H33"/></g>
</g>
<text x="1983" y="195" font-family="'Liberation Sans',sans-serif" font-weight="bold" font-size="15" fill="#000">1:2</text>
<text x="2029" y="196" font-family="'Liberation Mono',monospace" font-weight="bold" font-size="17" fill="#000">?</text>
<g transform="translate(1975,210)"><rect x="3" y="3" width="32" height="32" fill="#9edcdc" stroke="#c01818" stroke-width="3"/><path d="M12 8V20H21V31H12" fill="none" stroke="#0a0ae0"/><circle cx="16" cy="9" r="2.500" fill="#00f"/><circle cx="9" cy="18" r="2.500" fill="#f00"/><circle cx="11" cy="28" r="2.500" fill="#00f"/><circle cx="27" cy="12" r="4" fill="#f00"/><circle cx="27" cy="21" r="3" fill="none" stroke="#000"/><circle cx="27" cy="28" r="3" fill="none" stroke="#000"/></g>
<g transform="translate(2015,210)"><rect x="3" y="3" width="32" height="32" fill="#9edcdc" stroke="#c01818" stroke-width="3"/><path d="M16 9V28H10" fill="none" stroke="#000"/><circle cx="16" cy="9" r="2.500"/><circle cx="9" cy="18" r="2.500"/><circle cx="11" cy="28" r="2.500"/><circle cx="27" cy="12" r="4" fill="#f00"/><circle cx="27" cy="21" r="3" fill="none" stroke="#000"/><circle cx="27" cy="28" r="3" fill="none" stroke="#000"/></g>
<!-- row 5 -->
<g transform="translate(1895,254)"><circle cx="19" cy="21" r="6.500"/><rect x="10" y="13" width="18" height="17" fill="none" stroke="#000"/><path d="M23 15L31 7M26 6h6v6" stroke="#000" stroke-width="2" fill="none"/></g>
<g transform="translate(1935,254)"><rect x="5" y="5" width="28" height="28"/><rect x="18" y="8" width="12" height="12" fill="none" stroke="#d01818" stroke-width="2"/><rect x="7" y="23" width="7" height="7" fill="none" stroke="#1a1ae0" stroke-width="2"/><path d="M8 22L18 8M14 29L30 20" stroke="#fff"/></g>
<g transform="translate(1975,254)"><rect x="7" y="15" width="24" height="8" fill="#000"/><path d="M9 13v3M12 13v3M15 13v3M18 13v3M21 13v3M24 13v3M27 13v3M30 13v3" stroke="#000"/></g>
<g transform="translate(2015,254)"><circle cx="19" cy="20" r="7.500"/><rect x="8" y="9" width="23" height="22" fill="none" stroke="#000" stroke-dasharray="2 2"/></g>
<!-- row 6 -->
<g transform="translate(1895,294)"><path d="M11 11V26H27" stroke="#00f" stroke-width="3" fill="none"/><circle cx="11" cy="11" r="5" fill="#00f"/><circle cx="11" cy="26" r="5" fill="#00f"/><circle cx="27" cy="26" r="5" fill="#00f"/><circle cx="27" cy="11" r="5" fill="#f00"/></g>
<g transform="translate(1935,294)"><path d="M11 11L27 27M27 11L11 27" stroke="#000" stroke-width="2"/><circle cx="19" cy="19" r="5" fill="#0000b0"/></g>
<g transform="translate(1975,294)"><circle cx="12" cy="27" r="4" fill="none" stroke="#00c" stroke-width="2"/><circle cx="27" cy="11" r="4.500" fill="#f00"/><path d="M16 23L22 17M19 17h3v3" stroke="#000" fill="none"/></g>
<g transform="translate(2015,294)"><circle cx="12" cy="27" r="4.500" fill="#00f"/><circle cx="27" cy="11" r="4.500" fill="#f00"/><path d="M16 23L22 17M19 17h3v3" stroke="#000" fill="none"/></g>
<!-- row 7 -->
<g transform="translate(1895,334)"><path d="M10 27L28 9" stroke="#e01010" stroke-width="3"/><path d="M10 28.500H31" stroke="#1010e0" stroke-width="3"/><path d="M25 18l3 4M25 18h3v3" stroke="#000" fill="none"/></g>
<g transform="translate(1935,334)"><path d="M8 31L19 19" stroke="#1010e0" stroke-width="3"/><path d="M19 19L29 8" stroke="#e01010" stroke-width="3"/><path d="M20 27l4-4M22 23h2v2" stroke="#000" fill="none"/></g>
<g transform="translate(1975,334)"><path d="M17 11c9 0 9 15-1 16" stroke="#000" stroke-width="2" fill="none"/><path d="M12 27l6-4v7z"/></g>
<g transform="translate(2015,334)"><path d="M8 10H16V29M8 19H16M20 29V10H31M20 19H29" stroke="#e01010" stroke-width="3" fill="none"/><path d="M8 10H16M8 19H16" stroke="#2020e0" stroke-width="3"/><path d="M18 6V33" stroke="#000"/></g>
<!-- row 8 -->
<g transform="translate(1895,374)"><rect x="21" y="6" width="11" height="11" fill="#e81010"/><circle cx="26.500" cy="11.500" r="3.500" fill="#ddd"/><rect x="7" y="23" width="11" height="11" fill="none" stroke="#1010e0"/><circle cx="12.500" cy="28.500" r="3.500" fill="#00f"/><path d="M18 20L22 17" stroke="#000"/></g>
<g transform="translate(1935,374)"><path d="M9 19H29" stroke="#e01010" stroke-width="3"/><path d="M16 19H22" stroke="#1010e0" stroke-width="3"/></g>
<g transform="translate(1975,374)"><path d="M9 8V31M29 8V31M11 19H27" stroke="#000" fill="none"/><rect x="15" y="14" width="8" height="9" fill="#fff" stroke="#0000d0"/></g>
<g transform="translate(2015,374)"><path d="M8 8H24V18H32V32H14V22H8Z" fill="#00f"/><circle cx="15" cy="14" r="3.500" fill="#ccc"/><circle cx="25" cy="25" r="4.500" fill="#ccc"/></g>
<!-- row 9 -->
<g transform="translate(1895,414)"><path d="M7 26L19 11L31 26" fill="none" stroke="#e01010" stroke-width="2.500"/><path d="M7 27H31" stroke="#1010e0" stroke-width="3"/><path d="M19 25v-6M17 21l2-3 2 3" stroke="#000" fill="none"/></g>
<g transform="translate(1935,414)"><path d="M6 32L19 7L32 32" fill="none" stroke="#e01010" stroke-width="2.500"/><path d="M8 32L19 22L30 32" fill="none" stroke="#1010e0" stroke-width="2.500"/><path d="M19 18v-5M17 15l2-3 2 3" stroke="#000" fill="none"/></g>
<g transform="translate(1975,414)"><path d="M7 30L14 9H24L31 30" fill="none" stroke="#e01010" stroke-width="3"/><path d="M5 32L10 22H28L33 32" fill="none" stroke="#1010e0" stroke-width="3"/><path d="M19 20v-6M17 16l2-3 2 3" stroke="#000" fill="none"/></g>
<g transform="translate(2015,414)"><path d="M9 24L14 9H26L31 24" fill="none" stroke="#e01010" stroke-width="3"/><path d="M2 24H36" stroke="#1010e0" stroke-width="3"/><path d="M19 20v-6M17 16l2-3 2 3" stroke="#000" fill="none"/><path d="M4 21l5 6M9 21l-5 6" stroke="#000"/></g>
<!-- row 10 -->
<use href="#cur" x="1908" y="463"/>
<g transform="translate(1935,454)"><rect x="8" y="8" width="22" height="23" fill="none" stroke="#d82010" stroke-width="2.500"/></g><use href="#cur" x="1949" y="463"/>
<g transform="translate(1975,454)"><path d="M14 8H30V31H14L8 24V15Z" fill="none" stroke="#d82010" stroke-width="2.500"/></g><use href="#cur" x="1989" y="463"/>
<g transform="translate(2015,454)"><path d="M8 10V32M8 26H15V16H22V12H28" fill="none" stroke="#000"/><circle cx="9" cy="20" r="2.500" fill="#c02020" stroke="#000" stroke-width=".5"/><circle cx="7" cy="31" r="2.500" fill="#30c030" stroke="#000" stroke-width=".5"/><circle cx="28" cy="11" r="2.500" fill="#30c030" stroke="#000" stroke-width=".5"/></g><use href="#cur" x="2034" y="467"/>
<rect x="1893" y="491" width="155" height="3" fill="#5b7a72"/>
<!-- right lower panel -->
<rect x="1893" y="494" width="2" height="508" fill="#3f7f6f"/>
<path d="M1895 688.500H2048M1895 811.500H2048" stroke="#4c8a20"/>
<rect x="1907" y="743" width="84" height="46" fill="#ff0000"/>
<path d="M1926 745H1966V788H1946L1940 786H1934L1934 788H1926Z" fill="none" stroke="#a8a8a8" stroke-width="2"/>
<path d="M1926 745H1966M1934 787h8" fill="none" stroke="#38c8d0" stroke-width="2"/>
<path d="M1924 785l6 6M1930 785l-6 6" stroke="#fff"/>
<rect x="1894" y="1002" width="154" height="39" fill="#52c8ac"/>
<rect x="1894" y="1001" width="154" height="2" fill="#c8f0e8"/>
<text class="t" x="1897" y="1022">X = -3.201871"</text>
<text class="t" x="1897" y="1037">Y = -5.463612"</text>
<rect x="1897" y="1032" width="151" height="9" fill="#fff"/>
<path d="M1884 1041C1884 1033 1892 1030 1905 1031L1907 1035C1897 1034 1892 1036 1892 1041Z" fill="#20b040"/>
<g fill="#444"><rect x="1917" y="1036" width="10" height="1.500"/><rect x="1921" y="1036" width="2" height="5"/><path d="M1947 1036l4 3-4 2zM1981 1037h15v4h-15zM2011 1038a2.500 2.500 0 1 0 .1 0zM2026 1037h3v4h-3zM2031 1037h3v4h-3z"/></g>

<!-- ===== POPVIEW ===== -->
<rect x="288.500" y="343" width="505.500" height="360" fill="#3f7565"/>
<rect x="288.500" y="343" width="505.500" height="30" fill="#fff"/>
<g transform="translate(297,350)"><rect width="15" height="15" fill="#d8d050" stroke="#222"/><rect width="15" height="3" fill="#223"/><path d="M4 6l7 7M11 6l-7 7" stroke="#111" stroke-width="1.500"/></g>
<text x="318" y="362" font-family="'Liberation Sans',sans-serif" font-size="12.500" fill="#222" letter-spacing=".3">Popview - 1</text>
<path d="M774 352.500l10 10M784 352.500l-10 10" stroke="#222"/>
<rect x="293" y="376" width="460" height="296" fill="#000"/>
<rect x="289" y="672" width="468" height="3" fill="#b8ecde"/>
<rect x="753" y="375" width="4" height="300" fill="#9edcd0"/>
<rect x="757" y="375" width="36" height="300" fill="#3f7565"/>
<rect x="757" y="620" width="36" height="52" fill="#52c8ac"/>
<g>
<g transform="translate(758,375) scale(.89,.87)"><use href="#bt"/></g>
<g transform="translate(758,410) scale(.89,.87)"><use href="#bt"/></g>
<g transform="translate(758,445) scale(.89,.87)"><use href="#bt"/></g>
<g transform="translate(758,480) scale(.89,.87)"><use href="#bt"/></g>
<g transform="translate(758,515) scale(.89,.87)"><use href="#bt"/></g>
<g transform="translate(758,550) scale(.89,.87)"><use href="#bt"/></g>
<g transform="translate(758,585) scale(.89,.87)"><use href="#bt"/></g>
</g>
<g fill="none" stroke="#000" stroke-width="2">
<rect x="766" y="386" width="13" height="13"/><rect x="778" y="384" width="6" height="6" stroke-width="1"/><path d="M770 392h5" stroke-width="1"/>
<rect x="767" y="427" width="14" height="9"/><path d="M774 419l-4 5h8z" fill="#000"/>
<rect x="767" y="458" width="14" height="9"/><path d="M774 475l-4-5h8z" fill="#000"/><path d="M774 462v8"/>
<path d="M771 490H781V505H771"/><path d="M766 497l5-4v8z" fill="#000"/><path d="M770 497h5"/>
<path d="M778 525H768V540H778"/><path d="M784 532l-5-4v8z" fill="#000"/><path d="M774 532h5"/>
<rect x="771" y="562" width="6" height="6"/><path d="M774 556l-4 4h8zM774 574l-4-4h8zM767 565l4-4v8zM781 565l-4-4v8z" fill="#000" stroke="none"/>
<rect x="771.500" y="597.500" width="5" height="5" stroke-width="1"/><path d="M774 590l-3 4h6zM774 610l-3-4h6zM765 600l4-3v6zM783 600l-4-3v6z" fill="#000" stroke="none"/>
</g>
<!-- popview traces -->
<g fill="#4a9900">
<rect x="715.500" y="396" width="37.500" height="23"/>
<path d="M293 550H466V450Q466 446 470 446H753V456H475V556Q475 559 472 559H293Z"/>
</g>
<path d="M716 398l1 3-1 10" stroke="#000" stroke-width="1" fill="none"/>
<rect x="471" y="452" width="22" height="21" rx="6" fill="#ff0000"/>
<path d="M475 452H487V456H475ZM471 458Q471 452 475 452V473Q471 473 471 467Z" fill="#b8820f"/>
<!-- close -->
<rect x="291" y="677" width="500" height="25" fill="#9edcdc" stroke="#3f7565"/>
<path d="M292 701V678H790" fill="none" stroke="#d8f2f2" stroke-width="1.500"/>
<path d="M292 700.500H790V678" fill="none" stroke="#5c8f8f" stroke-width="1.500"/>
<text class="t" x="519" y="694">Close</text>
</svg>
</body></html>
